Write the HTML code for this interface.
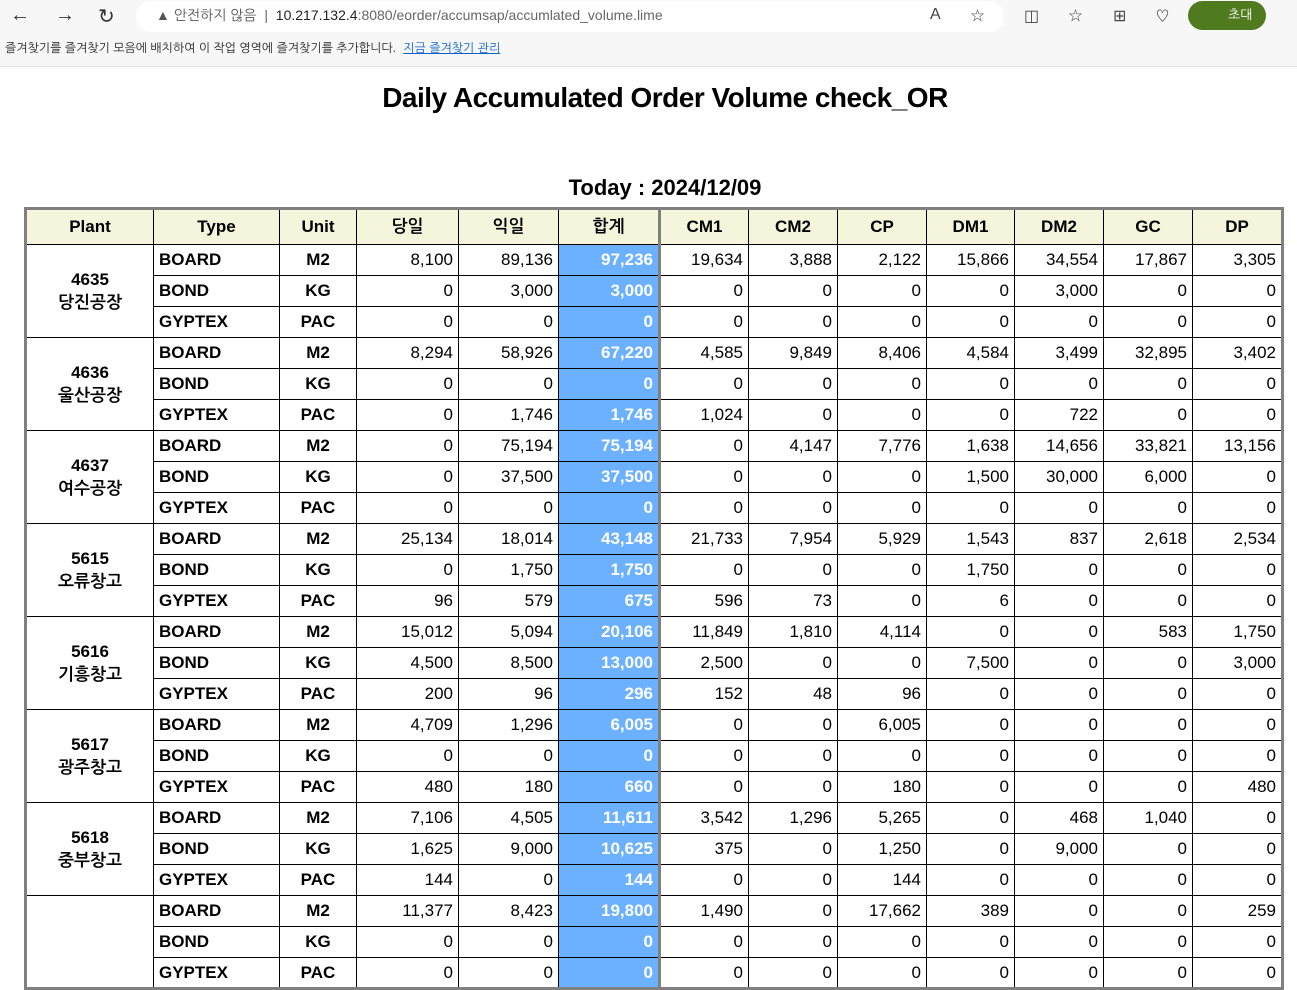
<!DOCTYPE html>
<html><head><meta charset="utf-8">
<style>
*{box-sizing:border-box;margin:0;padding:0}
body{width:1297px;height:920px;overflow:hidden;background:#fff;font-family:"Liberation Sans","NanumGothic","Noto Sans CJK KR",sans-serif;position:relative}
#topbar{position:absolute;left:0;top:0;width:1297px;height:35px;background:#f7f7f7}
#favbar{position:absolute;left:0;top:35px;width:1297px;height:32px;background:#f7f7f7;border-bottom:1px solid #e5e5e5;font-size:12px;color:#222;padding:6px 0 0 5px}
#favbar a{color:#0b62c4;text-decoration:underline;margin-left:4px}
.nav{position:absolute;top:4px;font-size:20px;color:#333}
#addr{position:absolute;left:136px;top:1px;width:868px;height:31px;background:#fff;border-radius:16px;font-size:14px;color:#222;padding:6px 0 0 20px}
#addr .warn{color:#555}
#addr .gray{color:#666}
#invite{position:absolute;left:1188px;top:1px;width:78px;height:29px;background:#4f7a1e;border-radius:15px;color:#fff;font-size:13px;padding:6px 0 0 40px}
.ic{position:absolute;top:6px;font-size:16px;color:#444}
#title{position:absolute;left:0;width:1330px;top:82px;text-align:center;font-size:28px;font-weight:bold;color:#000;letter-spacing:-0.5px}
#today{position:absolute;left:0;width:1330px;top:175px;text-align:center;font-size:22px;font-weight:bold}
table{position:absolute;left:24px;top:207px;width:1257px;border-collapse:collapse;table-layout:fixed;border:3px solid #808080;font-size:17px}
td,th{border:1px solid #000;height:31px;padding:0 5px;white-space:nowrap;overflow:hidden}
th{background:#f5f5dc;height:36px;font-weight:bold;text-align:center}
td{text-align:right}
td.p{text-align:center;font-weight:bold;line-height:23px}
td.t{text-align:left;font-weight:bold}
td.u{text-align:center;font-weight:bold}
td.s{background:#6bb1ff;color:#fff;font-weight:bold;border-right:3px solid #808080}
th.s{border-right:3px solid #808080}
</style></head><body>
<div id="topbar">
<span class="nav" style="left:10px">←</span>
<span class="nav" style="left:55px">→</span>
<span class="nav" style="left:98px">↻</span>
<div id="addr"><span class="warn">▲ 안전하지 않음</span> &nbsp;<span class="gray">|</span>&nbsp; 10.217.132.4<span class="gray">:8080/eorder/accumsap/accumlated_volume.lime</span></div>
<span class="ic" style="left:930px">A</span>
<span class="ic" style="left:970px">☆</span>
<span class="ic" style="left:1024px">◫</span>
<span class="ic" style="left:1068px">☆</span>
<span class="ic" style="left:1113px">⊞</span>
<span class="ic" style="left:1155px">♡</span>
<div id="invite">초대</div>
</div>
<div id="favbar">즐겨찾기를 즐겨찾기 모음에 배치하여 이 작업 영역에 즐겨찾기를 추가합니다. <a>지금 즐겨찾기 관리</a></div>
<div id="title">Daily Accumulated Order Volume check_OR</div>
<div id="today">Today : 2024/12/09</div>
<table>
<colgroup><col style="width:128px"><col style="width:126px"><col style="width:77px"><col style="width:102px"><col style="width:100px"><col style="width:101px"><col style="width:89px"><col style="width:89px"><col style="width:89px"><col style="width:88px"><col style="width:89px"><col style="width:89px"><col style="width:90px"></colgroup>
<tr><th>Plant</th><th>Type</th><th>Unit</th><th>당일</th><th>익일</th><th class="s">합계</th><th>CM1</th><th>CM2</th><th>CP</th><th>DM1</th><th>DM2</th><th>GC</th><th>DP</th></tr>
<tr><td class="p" rowspan="3">4635<br>당진공장</td><td class="t">BOARD</td><td class="u">M2</td><td>8,100</td><td>89,136</td><td class="s">97,236</td><td>19,634</td><td>3,888</td><td>2,122</td><td>15,866</td><td>34,554</td><td>17,867</td><td>3,305</td></tr>
<tr><td class="t">BOND</td><td class="u">KG</td><td>0</td><td>3,000</td><td class="s">3,000</td><td>0</td><td>0</td><td>0</td><td>0</td><td>3,000</td><td>0</td><td>0</td></tr>
<tr><td class="t">GYPTEX</td><td class="u">PAC</td><td>0</td><td>0</td><td class="s">0</td><td>0</td><td>0</td><td>0</td><td>0</td><td>0</td><td>0</td><td>0</td></tr>
<tr><td class="p" rowspan="3">4636<br>울산공장</td><td class="t">BOARD</td><td class="u">M2</td><td>8,294</td><td>58,926</td><td class="s">67,220</td><td>4,585</td><td>9,849</td><td>8,406</td><td>4,584</td><td>3,499</td><td>32,895</td><td>3,402</td></tr>
<tr><td class="t">BOND</td><td class="u">KG</td><td>0</td><td>0</td><td class="s">0</td><td>0</td><td>0</td><td>0</td><td>0</td><td>0</td><td>0</td><td>0</td></tr>
<tr><td class="t">GYPTEX</td><td class="u">PAC</td><td>0</td><td>1,746</td><td class="s">1,746</td><td>1,024</td><td>0</td><td>0</td><td>0</td><td>722</td><td>0</td><td>0</td></tr>
<tr><td class="p" rowspan="3">4637<br>여수공장</td><td class="t">BOARD</td><td class="u">M2</td><td>0</td><td>75,194</td><td class="s">75,194</td><td>0</td><td>4,147</td><td>7,776</td><td>1,638</td><td>14,656</td><td>33,821</td><td>13,156</td></tr>
<tr><td class="t">BOND</td><td class="u">KG</td><td>0</td><td>37,500</td><td class="s">37,500</td><td>0</td><td>0</td><td>0</td><td>1,500</td><td>30,000</td><td>6,000</td><td>0</td></tr>
<tr><td class="t">GYPTEX</td><td class="u">PAC</td><td>0</td><td>0</td><td class="s">0</td><td>0</td><td>0</td><td>0</td><td>0</td><td>0</td><td>0</td><td>0</td></tr>
<tr><td class="p" rowspan="3">5615<br>오류창고</td><td class="t">BOARD</td><td class="u">M2</td><td>25,134</td><td>18,014</td><td class="s">43,148</td><td>21,733</td><td>7,954</td><td>5,929</td><td>1,543</td><td>837</td><td>2,618</td><td>2,534</td></tr>
<tr><td class="t">BOND</td><td class="u">KG</td><td>0</td><td>1,750</td><td class="s">1,750</td><td>0</td><td>0</td><td>0</td><td>1,750</td><td>0</td><td>0</td><td>0</td></tr>
<tr><td class="t">GYPTEX</td><td class="u">PAC</td><td>96</td><td>579</td><td class="s">675</td><td>596</td><td>73</td><td>0</td><td>6</td><td>0</td><td>0</td><td>0</td></tr>
<tr><td class="p" rowspan="3">5616<br>기흥창고</td><td class="t">BOARD</td><td class="u">M2</td><td>15,012</td><td>5,094</td><td class="s">20,106</td><td>11,849</td><td>1,810</td><td>4,114</td><td>0</td><td>0</td><td>583</td><td>1,750</td></tr>
<tr><td class="t">BOND</td><td class="u">KG</td><td>4,500</td><td>8,500</td><td class="s">13,000</td><td>2,500</td><td>0</td><td>0</td><td>7,500</td><td>0</td><td>0</td><td>3,000</td></tr>
<tr><td class="t">GYPTEX</td><td class="u">PAC</td><td>200</td><td>96</td><td class="s">296</td><td>152</td><td>48</td><td>96</td><td>0</td><td>0</td><td>0</td><td>0</td></tr>
<tr><td class="p" rowspan="3">5617<br>광주창고</td><td class="t">BOARD</td><td class="u">M2</td><td>4,709</td><td>1,296</td><td class="s">6,005</td><td>0</td><td>0</td><td>6,005</td><td>0</td><td>0</td><td>0</td><td>0</td></tr>
<tr><td class="t">BOND</td><td class="u">KG</td><td>0</td><td>0</td><td class="s">0</td><td>0</td><td>0</td><td>0</td><td>0</td><td>0</td><td>0</td><td>0</td></tr>
<tr><td class="t">GYPTEX</td><td class="u">PAC</td><td>480</td><td>180</td><td class="s">660</td><td>0</td><td>0</td><td>180</td><td>0</td><td>0</td><td>0</td><td>480</td></tr>
<tr><td class="p" rowspan="3">5618<br>중부창고</td><td class="t">BOARD</td><td class="u">M2</td><td>7,106</td><td>4,505</td><td class="s">11,611</td><td>3,542</td><td>1,296</td><td>5,265</td><td>0</td><td>468</td><td>1,040</td><td>0</td></tr>
<tr><td class="t">BOND</td><td class="u">KG</td><td>1,625</td><td>9,000</td><td class="s">10,625</td><td>375</td><td>0</td><td>1,250</td><td>0</td><td>9,000</td><td>0</td><td>0</td></tr>
<tr><td class="t">GYPTEX</td><td class="u">PAC</td><td>144</td><td>0</td><td class="s">144</td><td>0</td><td>0</td><td>144</td><td>0</td><td>0</td><td>0</td><td>0</td></tr>
<tr><td class="p" rowspan="3"></td><td class="t">BOARD</td><td class="u">M2</td><td>11,377</td><td>8,423</td><td class="s">19,800</td><td>1,490</td><td>0</td><td>17,662</td><td>389</td><td>0</td><td>0</td><td>259</td></tr>
<tr><td class="t">BOND</td><td class="u">KG</td><td>0</td><td>0</td><td class="s">0</td><td>0</td><td>0</td><td>0</td><td>0</td><td>0</td><td>0</td><td>0</td></tr>
<tr><td class="t">GYPTEX</td><td class="u">PAC</td><td>0</td><td>0</td><td class="s">0</td><td>0</td><td>0</td><td>0</td><td>0</td><td>0</td><td>0</td><td>0</td></tr>
</table>
</body></html>
